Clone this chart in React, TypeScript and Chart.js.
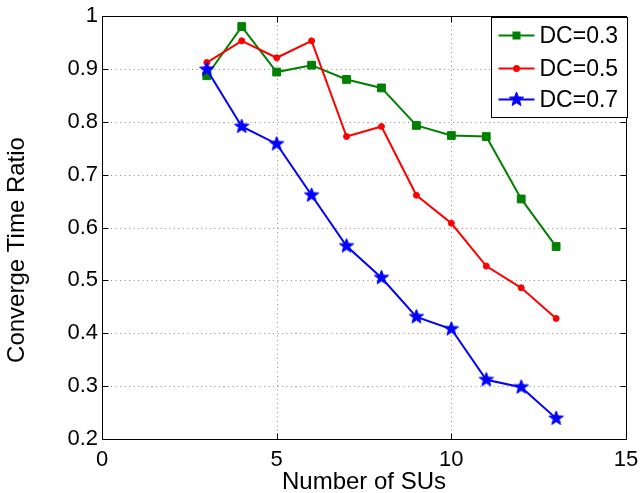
import React, { useEffect, useRef } from 'react';
import { Chart, registerables } from 'chart.js';

Chart.register(...registerables);

const xValues = [3, 4, 5, 6, 7, 8, 9, 10, 11, 12, 13];
const dc03 = [0.887, 0.98, 0.894, 0.907, 0.88, 0.864, 0.793, 0.774, 0.772, 0.654, 0.564];
const dc05 = [0.912, 0.953, 0.921, 0.953, 0.772, 0.791, 0.661, 0.608, 0.527, 0.486, 0.428];
const dc07 = [0.899, 0.791, 0.758, 0.661, 0.565, 0.505, 0.431, 0.408, 0.312, 0.298, 0.239];
const seriesLabels = ['DC=0.3', 'DC=0.5', 'DC=0.7'];
const seriesColors = ['#008000', '#ff0000', '#0000ff'];
const xTicks = [0, 5, 10, 15];
const yTicks = [0.2, 0.3, 0.4, 0.5, 0.6, 0.7, 0.8, 0.9, 1];
const xTitle = 'Number of SUs';
const yTitle = 'Converge Time Ratio';

const FONT = '"Liberation Sans", Arial, Helvetica, sans-serif';

function makeStar(color: string, outer: number, inner: number) {
  const size = Math.ceil(outer * 2 + 2);
  const c = document.createElement('canvas');
  c.width = size;
  c.height = size;
  const ctx = c.getContext('2d')!;
  ctx.beginPath();
  for (let i = 0; i < 10; i++) {
    const r = i % 2 === 0 ? outer : inner;
    const a = -Math.PI / 2 + (i * Math.PI) / 5;
    ctx.lineTo(size / 2 + r * Math.cos(a), size / 2 + r * Math.sin(a));
  }
  ctx.closePath();
  ctx.fillStyle = color;
  ctx.fill();
  ctx.strokeStyle = color;
  ctx.lineWidth = 1;
  ctx.stroke();
  return c;
}

export default function App() {
  const ref = useRef<HTMLCanvasElement>(null);

  useEffect(() => {
    if (!ref.current) return;
    const star = makeStar(seriesColors[2], 7.5, 3.2);

    const gridPlugin = {
      id: 'matlabGrid',
      beforeDatasetsDraw(chart: any) {
        const { ctx, chartArea: ca, scales } = chart;
        ctx.save();
        ctx.strokeStyle = 'rgba(0,0,0,0.45)';
        ctx.lineWidth = 1;
        ctx.setLineDash([1, 3.5]);
        xTicks.forEach((v) => {
          const x = Math.round(scales.x.getPixelForValue(v)) + 0.5;
          ctx.beginPath();
          ctx.moveTo(x, ca.top);
          ctx.lineTo(x, ca.bottom);
          ctx.stroke();
        });
        yTicks.forEach((v) => {
          const y = Math.round(scales.y.getPixelForValue(v)) + 0.5;
          ctx.beginPath();
          ctx.moveTo(ca.left, y);
          ctx.lineTo(ca.right, y);
          ctx.stroke();
        });
        ctx.restore();
      },
      afterDatasetsDraw(chart: any) {
        const { ctx, chartArea: ca, scales } = chart;
        ctx.save();
        ctx.setLineDash([]);
        ctx.strokeStyle = '#000';
        ctx.lineWidth = 1;
        const L = Math.round(ca.left) + 0.5;
        const R = Math.round(ca.right) + 0.5;
        const T = Math.round(ca.top) + 0.5;
        const B = Math.round(ca.bottom) + 0.5;
        ctx.strokeRect(L, T, R - L, B - T);
        const tl = 6;
        ctx.beginPath();
        xTicks.forEach((v) => {
          const x = Math.round(scales.x.getPixelForValue(v)) + 0.5;
          ctx.moveTo(x, B);
          ctx.lineTo(x, B - tl);
          ctx.moveTo(x, T);
          ctx.lineTo(x, T + tl);
        });
        yTicks.forEach((v) => {
          const y = Math.round(scales.y.getPixelForValue(v)) + 0.5;
          ctx.moveTo(L, y);
          ctx.lineTo(L + tl, y);
          ctx.moveTo(R, y);
          ctx.lineTo(R - tl, y);
        });
        ctx.stroke();

        // y-axis title (MATLAB places it slightly below the axes centre)
        ctx.save();
        ctx.translate(17.5, 250);
        ctx.rotate(-Math.PI / 2);
        ctx.font = `24px ${FONT}`;
        ctx.fillStyle = '#000';
        ctx.textAlign = 'center';
        ctx.textBaseline = 'middle';
        ctx.fillText(yTitle, 0, 0);
        ctx.restore();

        // legend
        const bw = 136;
        const bh = 100;
        const bx = Math.round(ca.right) + 1 - bw + 0.5;
        const by = Math.round(ca.top) + 1 + 0.5;
        ctx.fillStyle = '#fff';
        ctx.fillRect(bx, by, bw, bh);
        ctx.strokeStyle = '#000';
        ctx.lineWidth = 1;
        ctx.strokeRect(bx, by, bw, bh);
        const rows = [18, 51, 82];
        ctx.font = `23px ${FONT}`;
        ctx.textBaseline = 'middle';
        ctx.textAlign = 'left';
        seriesLabels.forEach((lab, i) => {
          const y = by + rows[i];
          const x0 = bx + 7;
          const x1 = bx + 43;
          const xm = (x0 + x1) / 2;
          ctx.strokeStyle = seriesColors[i];
          ctx.lineWidth = 2;
          ctx.beginPath();
          ctx.moveTo(x0, y);
          ctx.lineTo(x1, y);
          ctx.stroke();
          ctx.fillStyle = seriesColors[i];
          if (i === 0) {
            ctx.fillRect(xm - 4, y - 4, 8, 8);
          } else if (i === 1) {
            ctx.beginPath();
            ctx.arc(xm, y, 3.5, 0, Math.PI * 2);
            ctx.fill();
          } else {
            ctx.drawImage(star, xm - star.width / 2, y - star.height / 2);
          }
          ctx.fillStyle = '#000';
          ctx.fillText(lab, bx + 48, y + 1);
        });
        ctx.restore();
      },
    };

    const mk = (vals: number[]) => xValues.map((x, i) => ({ x, y: vals[i] }));

    const chart = new Chart(ref.current, {
      type: 'line',
      data: {
        datasets: [
          {
            label: seriesLabels[0],
            data: mk(dc03),
            borderColor: seriesColors[0],
            backgroundColor: seriesColors[0],
            borderWidth: 2,
            pointStyle: 'rect',
            pointRadius: 5.5,
            pointBorderWidth: 1,
            order: 2,
          },
          {
            label: seriesLabels[1],
            data: mk(dc05),
            borderColor: seriesColors[1],
            backgroundColor: seriesColors[1],
            borderWidth: 2,
            pointStyle: 'circle',
            pointRadius: 3,
            pointBorderWidth: 1,
            order: 1,
          },
          {
            label: seriesLabels[2],
            data: mk(dc07),
            borderColor: seriesColors[2],
            backgroundColor: seriesColors[2],
            borderWidth: 2,
            pointStyle: star as any,
            pointRadius: 7,
            order: 0,
          },
        ],
      },
      options: {
        animation: false,
        responsive: false,
        devicePixelRatio: 1,
        layout: { padding: { top: 16, right: 15, left: 0, bottom: 0 } },
        plugins: {
          legend: { display: false },
          tooltip: { enabled: false },
        },
        elements: { line: { tension: 0 } },
        scales: {
          x: {
            type: 'linear',
            min: 0,
            max: 15,
            afterBuildTicks: (s: any) => {
              s.ticks = xTicks.map((v) => ({ value: v }));
            },
            afterFit: (s: any) => {
              s.height = 54;
              s.paddingLeft = 0;
              s.paddingRight = 0;
            },
            grid: { display: false, drawTicks: false },
            border: { display: false },
            ticks: {
              color: '#000',
              font: { family: FONT, size: 22 },
              padding: 8,
              maxRotation: 0,
              autoSkip: false,
              callback: (v: any) => String(v),
            },
            title: {
              display: true,
              text: xTitle,
              color: '#000',
              font: { family: FONT, size: 24 },
              padding: { top: 0, bottom: -4 },
            },
          },
          y: {
            type: 'linear',
            min: 0.2,
            max: 1,
            afterBuildTicks: (s: any) => {
              s.ticks = yTicks.map((v) => ({ value: v }));
            },
            afterFit: (s: any) => {
              s.width = 102;
              s.paddingTop = 0;
              s.paddingBottom = 0;
            },
            grid: { display: false, drawTicks: false },
            border: { display: false },
            ticks: {
              color: '#000',
              font: { family: FONT, size: 22 },
              padding: 4,
              autoSkip: false,
              callback: (v: any) => String(Math.round(Number(v) * 10) / 10),
            },
            title: { display: false },
          },
        },
      },
      plugins: [gridPlugin],
    } as any);

    return () => chart.destroy();
  }, []);

  return (
    <div style={{ position: 'fixed', left: 0, top: 0, width: 641, height: 493, background: '#fff' }}>
      <canvas ref={ref} width={641} height={493} />
    </div>
  );
}
